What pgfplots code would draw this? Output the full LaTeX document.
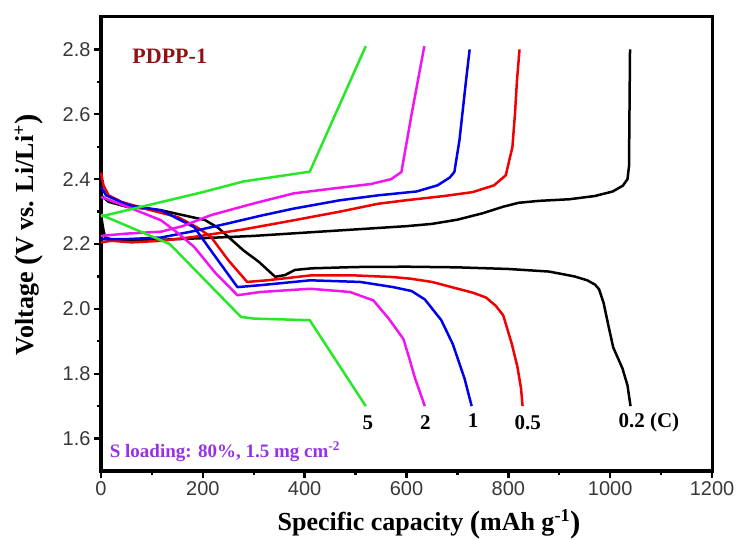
\documentclass[border=0pt]{standalone}
\usepackage{fontspec}
\setmainfont{Liberation Serif}
\newfontfamily\tickfont{Liberation Sans}
\usepackage{pgfplots}
\pgfplotsset{compat=1.18}
\definecolor{cgreen}{RGB}{40,230,40}
\definecolor{cmag}{RGB}{240,20,240}
\definecolor{cblue}{RGB}{0,0,235}
\definecolor{cred}{RGB}{240,0,0}
\definecolor{cdred}{RGB}{140,20,20}
\definecolor{cpurp}{RGB}{150,50,230}
\newcommand\bpar[1]{\raisebox{-0.1em}{\fontsize{31bp}{31bp}\selectfont #1}}
\begin{document}
\begin{tikzpicture}
\path[use as bounding box] (0,0) rectangle (740bp,540bp);
\begin{axis}[
  at={(101bp,69bp)}, anchor=south west,
  scale only axis, width=611bp, height=454bp,
  xmin=0, xmax=1200, ymin=1.5, ymax=2.9,
  xtick={0,200,400,600,800,1000,1200},
  ytick={1.6,1.8,2.0,2.2,2.4,2.6,2.8},
  minor x tick num=1, minor y tick num=1,
  tick align=outside, xtick pos=bottom, ytick pos=left,
  axis line style={black, line width=3bp},
  major tick length=7bp, minor tick length=4bp,
  major tick style={black, line width=2.4bp},
  minor tick style={black, line width=2.4bp},
  tick label style={font=\tickfont\fontsize{20bp}{23bp}\selectfont, color=black!78},
  /pgf/number format/assume math mode=true,
  y tick label style={/pgf/number format/.cd, fixed, fixed zerofill, precision=1},
  x tick label style={/pgf/number format/.cd, fixed, 1000 sep={}},
  xlabel={\bfseries Specific capacity \bpar{(}mAh g\textsuperscript{-1}\bpar{)}},
  ylabel={\bfseries Voltage \bpar{(}V vs. Li/Li\textsuperscript{+}\bpar{)}},
  xlabel style={font=\fontsize{26bp}{30bp}\selectfont, at={(axis description cs:0.537,-0.117)}, anchor=center},
  ylabel style={font=\fontsize{26bp}{30bp}\selectfont, at={(axis description cs:-0.118,0.52)}, anchor=center},
  every axis plot/.append style={line width=2.5bp, line join=round},
  clip=false,
]
% 0.2C black
\addplot[black] coordinates {(0,2.35) (15,2.33) (50,2.315) (118,2.304) (204,2.274) (230,2.25) (250,2.222) (280,2.18) (310,2.145) (342,2.099) (361,2.104) (381,2.12) (414,2.125) (500,2.129) (600,2.130) (700,2.128) (800,2.123) (880,2.115) (930,2.10) (955,2.088) (970,2.075) (978,2.061) (987,2.019) (997,1.945) (1006,1.881) (1024,1.817) (1034,1.764) (1040,1.70)};
\addplot[black] coordinates {(0,2.29) (4,2.25) (8,2.22) (30,2.21) (100,2.212) (200,2.218) (300,2.225) (400,2.235) (500,2.245) (600,2.255) (650,2.262) (700,2.275) (750,2.295) (790,2.315) (820,2.327) (860,2.333) (920,2.338) (970,2.348) (1005,2.362) (1025,2.38) (1034,2.40) (1037,2.44) (1039,2.80)};
% 0.5C red
\addplot[cred] coordinates {(0,2.42) (5,2.38) (15,2.35) (40,2.33) (86,2.309) (151,2.283) (190,2.25) (216,2.222) (250,2.15) (287,2.083) (326,2.088) (411,2.103) (500,2.103) (574,2.098) (608,2.093) (650,2.083) (691,2.066) (730,2.05) (756,2.035) (775,2.01) (790,1.98) (807,1.891) (818,1.82) (825,1.754) (828,1.70)};
\addplot[cred] coordinates {(0,2.205) (20,2.21) (60,2.205) (120,2.21) (183,2.222) (280,2.245) (378,2.273) (470,2.30) (544,2.324) (600,2.335) (674,2.348) (730,2.36) (772,2.381) (795,2.412) (808,2.499) (813,2.60) (817,2.705) (822,2.80)};
% 1C blue
\addplot[cblue] coordinates {(0,2.376) (10,2.35) (53,2.32) (118,2.304) (183,2.252) (225,2.16) (268,2.067) (313,2.073) (411,2.088) (509,2.083) (574,2.067) (610,2.055) (636,2.029) (668,1.966) (691,1.891) (714,1.785) (728,1.70)};
\addplot[cblue] coordinates {(0,2.215) (50,2.215) (118,2.220) (183,2.24) (248,2.263) (313,2.287) (378,2.309) (470,2.335) (544,2.350) (620,2.362) (661,2.381) (685,2.405) (694,2.422) (704,2.520) (717,2.705) (724,2.80)};
% 2C magenta
\addplot[cmag] coordinates {(0,2.345) (53,2.314) (118,2.273) (150,2.235) (183,2.191) (225,2.11) (268,2.042) (313,2.052) (411,2.062) (489,2.052) (535,2.026) (565,1.97) (594,1.907) (605,1.85) (617,1.785) (636,1.70)};
\addplot[cmag] coordinates {(0,2.225) (50,2.232) (118,2.238) (160,2.255) (216,2.289) (300,2.325) (378,2.356) (450,2.37) (530,2.385) (570,2.40) (590,2.422) (610,2.60) (635,2.81)};
% 5C green
\addplot[cgreen] coordinates {(0,2.29) (135,2.20) (275,1.975) (300,1.97) (410,1.965) (520,1.70)};
\addplot[cgreen] coordinates {(0,2.285) (120,2.33) (200,2.36) (280,2.393) (410,2.423) (520,2.81)};
% annotations
\node[font=\bfseries\fontsize{22bp}{26bp}\selectfont, text=cdred] at (axis cs:135,2.78) {PDPP-1};
\node[font=\bfseries\fontsize{19bp}{22bp}\selectfont, text=cpurp, anchor=west, inner sep=0pt] at (axis cs:17,1.559) {S loading: 80\%, 1.5 mg cm\textsuperscript{-2}};
\node[font=\bfseries\fontsize{21bp}{25bp}\selectfont] at (axis cs:524,1.65) {5};
\node[font=\bfseries\fontsize{21bp}{25bp}\selectfont] at (axis cs:637,1.65) {2};
\node[font=\bfseries\fontsize{21bp}{25bp}\selectfont] at (axis cs:731,1.655) {1};
\node[font=\bfseries\fontsize{21bp}{25bp}\selectfont] at (axis cs:838,1.65) {0.5};
\node[font=\bfseries\fontsize{21bp}{25bp}\selectfont] at (axis cs:1076,1.65) {0.2 (C)};
\end{axis}
\end{tikzpicture}
\end{document}
